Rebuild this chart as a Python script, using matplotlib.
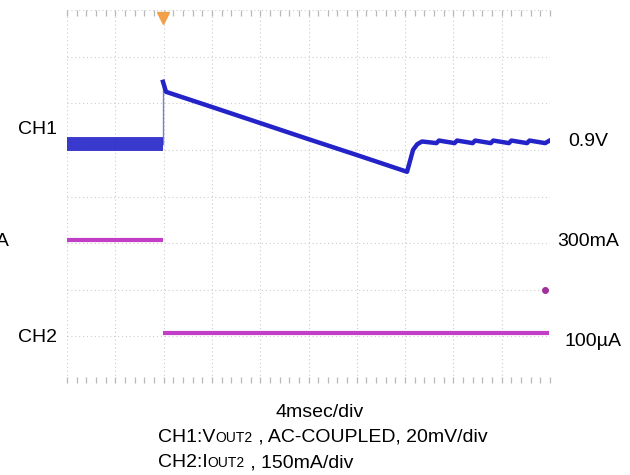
import matplotlib
matplotlib.use('Agg')
import matplotlib.pyplot as plt
import numpy as np

plt.rcParams['font.family'] = ['Liberation Sans', 'DejaVu Sans']

# Scope settings
t_div = 4.0          # ms per division
ch1_div = 20.0       # mV per division
ch2_div = 150.0      # mA per division
ch1_ref = 5.17       # 0.9V reference position (divisions from bottom)
ch2_ref = 1.07       # 100uA reference position (divisions from bottom)

# CH1: VOUT2, AC-coupled, mV relative to 0.9V
ch1_pre_t = [0.0, 7.95]
ch1_pre_v = [-0.9, -0.9]
ch1_t = [7.95, 7.95, 8.2, 12.0, 16.0, 20.0, 24.0, 28.16, 28.66, 29.0, 29.4,
         30.6, 30.8, 32.1, 32.3, 33.6, 33.8, 35.1, 35.3, 36.6, 36.8, 38.1, 38.3, 39.6, 39.9]
ch1_v = [-0.9, 25.8, 21.5, 15.0, 8.1, 1.2, -5.6, -12.8, -3.4, -1.0, 0.2,
         -0.5, 0.6, -0.5, 0.6, -0.5, 0.6, -0.5, 0.6, -0.5, 0.6, -0.5, 0.6, -0.5, 0.4]

# CH2: IOUT2 in mA
ch2_pre_t = [0.0, 7.95]
ch2_pre_i = [300.0, 300.0]
ch2_post_t = [7.95, 39.9]
ch2_post_i = [0.1, 0.1]
ch2_mark_t = [39.6]
ch2_mark_i = [140.0]
trig_t = 7.95

W, H = 630, 475
fig = plt.figure(figsize=(W / 100, H / 100), dpi=100)
ax = fig.add_axes([67 / W, 1 - 383 / H, (550 - 67) / W, (383 - 10) / H])
ax.set_xlim(0, 10 * t_div)
ax.set_ylim(0, 8)

blue = '#2323c8'
mag = '#c23ec6'

def ch1_y(v):
    return ch1_ref + np.asarray(v) / ch1_div

def ch2_y(i):
    return ch2_ref + np.asarray(i) / ch2_div

# grid
for k in range(11):
    ax.axvline(k * t_div, color='#cccccc', lw=0.8, ls=(0, (1, 2.5)), zorder=0)
for k in range(9):
    ax.axhline(k, color='#cccccc', lw=0.8, ls=(0, (1, 2.5)), zorder=0)
for s in ax.spines.values():
    s.set_visible(False)
ax.set_xticks(np.arange(0, 40.01, 0.8))
ax.set_yticks([])
ax.tick_params(axis='x', direction='in', length=4, width=0.9, color='#b8b8b8',
               top=True, bottom=True, labelbottom=False)

# traces
ax.plot(ch1_pre_t, ch1_y(ch1_pre_v), color=blue, lw=10, solid_capstyle='butt', alpha=0.9)
ax.plot(ch1_t[:2], ch1_y(ch1_v[:2]), color=blue, lw=1.0, alpha=0.6)
ax.plot(ch1_t[1:], ch1_y(ch1_v[1:]), color=blue, lw=3.2, solid_joinstyle='round')
ax.plot(ch2_pre_t, ch2_y(ch2_pre_i), color=mag, lw=3, solid_capstyle='butt')
ax.plot(ch2_post_t, ch2_y(ch2_post_i), color=mag, lw=3, solid_capstyle='butt')
ax.plot(ch2_mark_t, ch2_y(ch2_mark_i), 'o', color='#a0309a', ms=4)
ax.plot([trig_t], [7.83], 'v', color='#f0a048', ms=9, clip_on=False)

def px(x, y):
    return x / W, 1 - y / H

fs = 14
fig.text(*px(18, 130), 'CH1', fontsize=fs, va='center', ha='left')
fig.text(*px(18, 337), 'CH2', fontsize=fs, va='center', ha='left')
fig.text(*px(9, 241), '300mA', fontsize=fs, va='center', ha='right')
fig.text(*px(568, 142), '0.9V', fontsize=fs, va='center', ha='left')
fig.text(*px(557, 241), '300mA', fontsize=fs, va='center', ha='left')
fig.text(*px(565, 341), '100µA', fontsize=fs, va='center', ha='left')
fig.text(*px(320, 417), '4msec/div', fontsize=fs, va='baseline', ha='center')

renderer = fig.canvas.get_renderer()

def seg_line(x0, ybase, parts):
    x = x0
    for txt, size in parts:
        t = fig.text(*px(x, ybase), txt, fontsize=size, va='baseline', ha='left')
        x += t.get_window_extent(renderer).width

seg_line(158, 442, [('CH1:V', fs), ('OUT2', 10), (' , AC-COUPLED, 20mV/div', fs)])
seg_line(158, 467, [('CH2:I', fs), ('OUT2', 10), (' , 150mA/div', fs)])

fig.savefig('out.png', dpi=100)
